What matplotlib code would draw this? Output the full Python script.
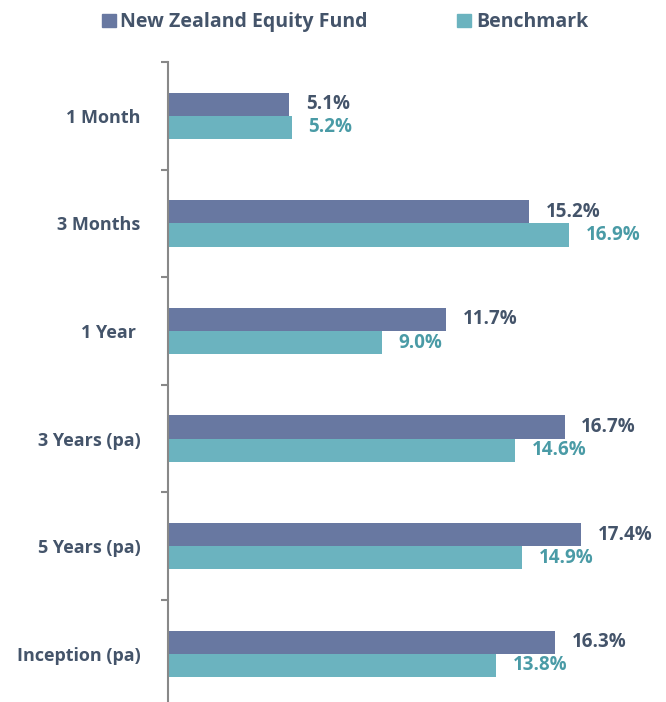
import matplotlib.pyplot as plt
import numpy as np
from matplotlib.patches import Patch

categories = ['1 Month', '3 Months', '1 Year ', '3 Years (pa)', '5 Years (pa)', 'Inception (pa)']
fund = [5.1, 15.2, 11.7, 16.7, 17.4, 16.3]
bench = [5.2, 16.9, 9.0, 14.6, 14.9, 13.8]

fund_col = '#6878A1'
bench_col = '#6BB3BF'
text_col = '#44546A'
bench_txt = '#4A9BA6'

plt.rcParams['font.family'] = ['Open Sans', 'DejaVu Sans']
plt.rcParams['font.weight'] = 'bold'

fig = plt.figure(figsize=(6.66, 7.02), dpi=100)
ax = fig.add_axes([0.2523, -0.008, 0.7132, 0.9197])

y = np.arange(len(categories))
h = 0.215
ax.barh(y - h / 2, fund, height=h, color=fund_col, label='New Zealand Equity Fund')
ax.barh(y + h / 2, bench, height=h, color=bench_col, label='Benchmark')

for i in range(len(categories)):
    ax.text(fund[i] + 0.7, y[i] - h / 2, f'{fund[i]:.1f}%', va='center', ha='left',
            fontsize=13.5, fontweight='bold', color=text_col)
    ax.text(bench[i] + 0.7, y[i] + h / 2, f'{bench[i]:.1f}%', va='center', ha='left',
            fontsize=13.5, fontweight='bold', color=bench_txt)

ax.set_xlim(0, 20)
ax.set_ylim(len(categories) - 0.5, -0.5)
ax.set_yticks(y)
ax.set_yticklabels(categories, fontsize=13, fontweight='bold', color=text_col)
ax.tick_params(axis='y', which='major', length=0, pad=20)
ax.set_yticks(np.arange(len(categories) + 1) - 0.5, minor=True)
ax.tick_params(axis='y', which='minor', length=5, width=1.5, color='#888888')
ax.set_xticks([])
for s in ['top', 'right', 'bottom']:
    ax.spines[s].set_visible(False)
ax.spines['left'].set_color('#888888')
ax.spines['left'].set_linewidth(1.5)

handles = [Patch(color=fund_col), Patch(color=bench_col)]
leg = fig.legend(handles, ['New Zealand Equity Fund', 'Benchmark'], loc='center',
                 bbox_to_anchor=(0.518, 0.968), ncol=2, frameon=False,
                 fontsize=14, handlelength=0.7, handleheight=0.7, handletextpad=0.25,
                 columnspacing=4.6)
for t in leg.get_texts():
    t.set_color(text_col)
    t.set_fontweight('bold')

fig.savefig('out.png', dpi=100)
